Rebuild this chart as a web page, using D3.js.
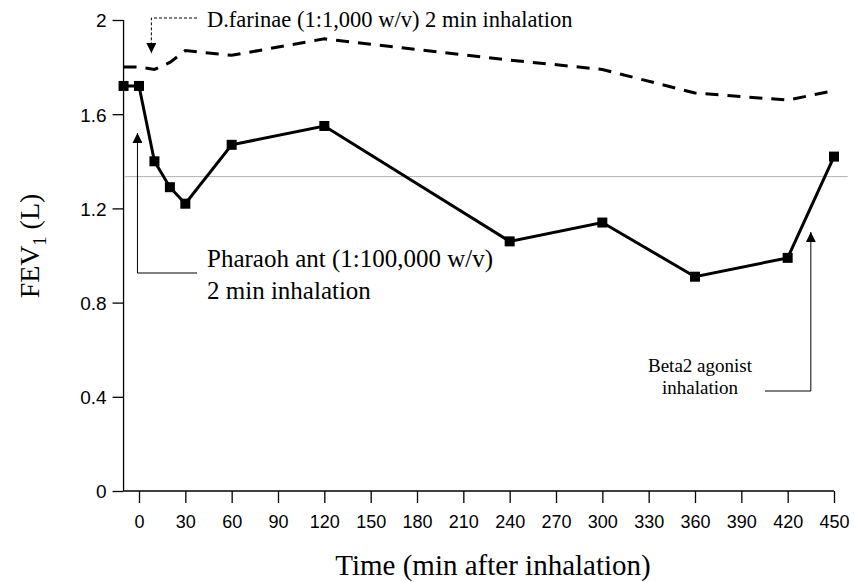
<!DOCTYPE html>
<html>
<head>
<meta charset="utf-8">
<script src="https://cdn.jsdelivr.net/npm/d3@7"></script>
<style>
  body { margin: 0; background: #fff; }
  svg { display: block; }
</style>
</head>
<body>
<div id="chart"></div>
<script>
// data
let times = [-10, 0, 10, 20, 30, 60, 120, 240, 300, 360, 420, 450];
let pharaoh = [1.72, 1.72, 1.40, 1.29, 1.22, 1.47, 1.55, 1.06, 1.14, 0.91, 0.99, 1.42];
let farinae = [1.80, 1.80, 1.79, 1.82, 1.87, 1.85, 1.92, 1.83, 1.79, 1.69, 1.66, 1.70];
let xTicks = [0, 30, 60, 90, 120, 150, 180, 210, 240, 270, 300, 330, 360, 390, 420, 450];
let yTicks = [0, 0.4, 0.8, 1.2, 1.6, 2];
let refLevel = 1.335;

let width = 854, height = 582;

let x = d3.scaleLinear().domain([0, 450]).range([139, 834]);
let y = d3.scaleLinear().domain([0, 2]).range([491, 20]);

let svg = d3.select("#chart").append("svg")
    .attr("width", width)
    .attr("height", height);

let defs = svg.append("defs");
defs.append("marker")
    .attr("id", "arrow")
    .attr("viewBox", "0 0 10 10")
    .attr("refX", 10).attr("refY", 5)
    .attr("markerWidth", 10).attr("markerHeight", 10)
    .attr("markerUnits", "userSpaceOnUse")
    .attr("orient", "auto")
    .append("path")
    .attr("d", "M0,0 L10,5 L0,10 Z")
    .attr("fill", "#000");

let axisX = x(-10);
let sans = "'Liberation Sans', Arial, sans-serif";

// y axis
let yAxis = svg.append("g")
    .attr("transform", `translate(${axisX},0)`)
    .call(d3.axisLeft(y).tickValues(yTicks).tickSize(11).tickPadding(6)
        .tickFormat(d => d3.format("")(d)));
yAxis.select(".domain").attr("d", `M0,${y(2)}V${y(0)}`);
yAxis.selectAll(".tick text").attr("font-size", 19).attr("dy", "0.36em");

// x axis
let xAxis = svg.append("g")
    .attr("transform", `translate(0,${y(0)})`)
    .call(d3.axisBottom(x).tickValues(xTicks).tickSize(12).tickPadding(12));
xAxis.select(".domain").attr("d", `M${axisX},0H${x(450)}`);
xAxis.selectAll(".tick text").attr("font-size", 18);

svg.selectAll(".tick text")
    .attr("font-family", sans)
    .attr("fill", "#000");
svg.selectAll(".domain, .tick line").attr("stroke", "#000").attr("stroke-width", 1.3);

// reference dotted line
svg.append("line")
    .attr("x1", axisX + 2).attr("x2", x(459))
    .attr("y1", y(refLevel)).attr("y2", y(refLevel))
    .attr("stroke", "#666")
    .attr("stroke-width", 1)
    .attr("stroke-dasharray", "1,1");

let line = d3.line().x((d, i) => x(times[i])).y(d => y(d));

// D. farinae dashed
svg.append("path")
    .datum(farinae)
    .attr("d", line)
    .attr("fill", "none")
    .attr("stroke", "#000")
    .attr("stroke-width", 3)
    .attr("stroke-dasharray", "13,9");

// Pharaoh ant solid
svg.append("path")
    .datum(pharaoh)
    .attr("d", line)
    .attr("fill", "none")
    .attr("stroke", "#000")
    .attr("stroke-width", 3);

svg.selectAll("rect.pt")
    .data(pharaoh)
    .join("rect")
    .attr("class", "pt")
    .attr("x", (d, i) => x(times[i]) - 5)
    .attr("y", d => y(d) - 5)
    .attr("width", 10)
    .attr("height", 10)
    .attr("fill", "#000");

// annotations
let serif = "'Liberation Serif', 'Times New Roman', serif";

// D.farinae
svg.append("path")
    .attr("d", `M197,${y(2) - 2}H${x(8)}V${y(1.80) - 14}`)
    .attr("fill", "none")
    .attr("stroke", "#000")
    .attr("stroke-width", 1)
    .attr("stroke-dasharray", "3,2")
    .attr("marker-end", "url(#arrow)");
svg.append("text")
    .attr("x", 207).attr("y", 27)
    .attr("font-family", serif).attr("font-size", 22.5)
    .text("D.farinae (1:1,000 w/v) 2 min inhalation");

// Pharaoh ant
svg.append("path")
    .attr("d", `M197,273H${x(-1)}V133`)
    .attr("fill", "none")
    .attr("stroke", "#000")
    .attr("stroke-width", 1)
    .attr("marker-end", "url(#arrow)");
svg.append("text")
    .attr("x", 207).attr("y", 267)
    .attr("font-family", serif).attr("font-size", 25)
    .text("Pharaoh ant (1:100,000 w/v)");
svg.append("text")
    .attr("x", 207).attr("y", 299)
    .attr("font-family", serif).attr("font-size", 25)
    .text("2 min inhalation");

// Beta2 agonist
svg.append("path")
    .attr("d", `M765,391H${x(435)}V232`)
    .attr("fill", "none")
    .attr("stroke", "#000")
    .attr("stroke-width", 1)
    .attr("marker-end", "url(#arrow)");
svg.append("text")
    .attr("x", 700).attr("y", 372)
    .attr("text-anchor", "middle")
    .attr("font-family", serif).attr("font-size", 19)
    .text("Beta2 agonist");
svg.append("text")
    .attr("x", 700).attr("y", 394)
    .attr("text-anchor", "middle")
    .attr("font-family", serif).attr("font-size", 19)
    .text("inhalation");

// axis titles
svg.append("text")
    .attr("x", 493).attr("y", 575)
    .attr("text-anchor", "middle")
    .attr("font-family", serif).attr("font-size", 29)
    .text("Time (min after inhalation)");

let yt = svg.append("text")
    .attr("transform", "translate(39,246) rotate(-90)")
    .attr("text-anchor", "middle")
    .attr("font-family", serif).attr("font-size", 28);
yt.append("tspan").text("FEV");
yt.append("tspan").attr("font-size", 18).attr("dy", 7).text("1");
yt.append("tspan").attr("dy", -7).text(" (L)");
</script>
</body>
</html>
